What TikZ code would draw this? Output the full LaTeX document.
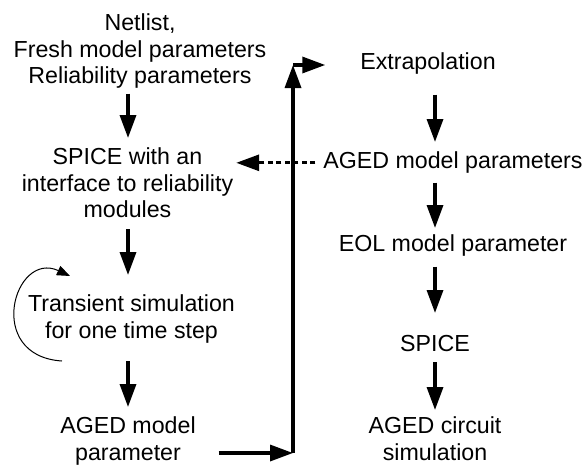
\documentclass[tikz,border=0pt]{standalone}
\usepackage{fontspec}
\setmainfont{Liberation Sans}
\usetikzlibrary{arrows.meta}

\tikzset{
  txt/.style={align=center, inner sep=0pt, outer sep=0pt, anchor=north,
              font=\fontsize{23.2}{26.5}\selectfont},
  arr/.style={line width=3.4pt, -{Triangle[length=23pt,width=16pt]}},
  feedback/.style={arr, line width=3pt, dash pattern=on 5pt off 3.5pt},
  loop/.style={line width=1pt, -{Triangle[length=13pt,width=10pt]}}
}

\begin{document}
\begin{tikzpicture}[x=1pt,y=-1pt]
\useasboundingbox (0,0) rectangle (585,466);

% left column: aging analysis flow
\node[txt] (inp)   at (140,14)    {Netlist,\\Fresh model parameters\\Reliability parameters};
\node[txt] (spice) at (127.5,148) {SPICE with an\\interface to reliability\\modules};
\node[txt] (trans) at (131.5,295) {Transient simulation\\for one time step};
\node[txt] (aged)  at (128,417)   {AGED model\\parameter};

% right column: end-of-life evaluation
\node[txt] (extrap) at (428,53)  {Extrapolation};
\node[txt] (agedp)  at (453,152) {AGED model parameters};
\node[txt] (eol)    at (453,235) {EOL model parameter};
\node[txt] (spiceR) at (435,335) {SPICE};
\node[txt] (agedc)  at (435,417) {AGED circuit\\simulation};

% arrow columns and the route between the two columns
\coordinate (colL) at (128,0);
\coordinate (colR) at (435,0);
\coordinate (bend) at (293,453);
\coordinate (corner) at (293,65);

% left column arrows
\draw[arr, shorten <=5pt,  shorten >=10pt] (inp.south -| colL)   -- (spice.north -| colL);
\draw[arr, shorten <=11pt, shorten >=20pt] (spice.south -| colL) -- (trans.north -| colL);
\draw[arr, shorten <=18pt, shorten >=10pt] (trans.south -| colL) -- (aged.north -| colL);

% right column arrows
\draw[arr, shorten <=20pt, shorten >=10pt] (extrap.south -| colR) -- (agedp.north -| colR);
\draw[arr, shorten <=9pt,  shorten >=7pt]  (agedp.south -| colR)  -- (eol.north -| colR);
\draw[arr, shorten <=10pt, shorten >=22pt] (eol.south -| colR)    -- (spiceR.north -| colR);
\draw[arr, shorten <=11pt, shorten >=7pt]  (spiceR.south -| colR) -- (agedc.north -| colR);

% route from the aged parameters up to the extrapolation
\draw[arr, shorten <=23pt] (bend -| aged.east) -- (bend);
\draw[arr] (bend) -- (corner);
\draw[arr, shorten >=35pt] (corner) -- (corner -| extrap.west);

% feedback of the aged parameters
\draw[feedback, shorten <=8pt, shorten >=3pt] (agedp.west) -- (agedp.west -| spice.east);

% time-step loop
\coordinate (loopA) at (62,361);
\coordinate (loopB) at (70,276);
\draw[loop] (loopA) .. controls (-16,356) and (14,250) .. (loopB);
\end{tikzpicture}
\end{document}
